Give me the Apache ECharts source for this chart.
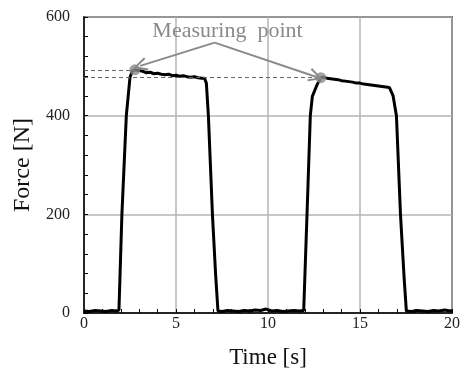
<!DOCTYPE html>
<html>
<head>
<meta charset="utf-8">
<script src="https://cdn.jsdelivr.net/npm/echarts@6/dist/echarts.min.js"></script>
<style>
html,body{margin:0;padding:0;background:#fff;}
#c{width:464px;height:376px;}
</style>
</head>
<body>
<div id="c"></div>
<script>
// Time [s]
const timeS = [
  0, 0.3, 0.6, 0.9, 1.2, 1.5, 1.75, 1.9, 2.06, 2.3, 2.5, 2.62, 2.76, 2.9, 3.0, 3.2, 3.4, 3.6, 3.8, 4.0,
  4.2, 4.4, 4.6, 4.8, 5.0, 5.2, 5.4, 5.6, 5.8, 6.0, 6.2, 6.4, 6.55, 6.65, 6.76, 6.98, 7.15, 7.28,
  7.5, 7.8, 8.1, 8.4, 8.7, 9.0, 9.3, 9.6, 9.9, 10.0, 10.2, 10.5, 10.8, 11.1, 11.4, 11.7, 11.94,
  12.12, 12.3, 12.41, 12.55, 12.67, 12.8, 12.87, 13.0, 13.2, 13.4, 13.6, 13.8, 14.0, 14.2, 14.4,
  14.6, 14.8, 15.0, 15.2, 15.4, 15.6, 15.8, 16.0, 16.2, 16.4, 16.6, 16.7, 16.8, 16.98, 17.2, 17.4,
  17.52, 17.8, 18.1, 18.4, 18.7, 19.0, 19.3, 19.6, 19.9, 20.0
];
// Force [N]
const forceN = [
  4, 3, 5, 4, 3, 5, 4, 6, 200, 400, 478, 490, 493, 492, 489, 490, 487, 488, 485, 486,
  484, 483, 484, 481, 482, 480, 481, 479, 478, 479, 477, 476, 476, 466, 400, 200, 80, 4,
  3, 5, 4, 3, 5, 4, 6, 5, 8, 6, 4, 5, 3, 4, 5, 4, 5,
  200, 400, 439, 452, 463, 472, 477, 478, 476, 475, 474, 473, 471, 470, 469,
  468, 466, 466, 464, 463, 462, 461, 460, 459, 458, 457, 456, 440, 400, 200, 70,
  4, 3, 5, 4, 3, 5, 4, 6, 4, 5
];
// Measuring points
const pointTimes = [2.76, 12.87];
const pointForces = [493, 477];
// Annotation
const annoText = 'Measuring  point';
const annoTextPos = [7.8, 572];
const arrowFrom = [7.1, 548];
const arrowTips = [[3.05, 501], [12.6, 479]];

const xTicks = [0, 5, 10, 15, 20];
const yTicks = [0, 200, 400, 600];

const serif = '"Liberation Serif","Times New Roman",serif';
const chart = echarts.init(document.getElementById('c'));
const gray = '#8a8a8a';
const chevron = 'path://M5,0 L10,11 L8.6,11.6 L5,3.2 L1.4,11.6 L0,11 Z';

chart.setOption({
  animation: false,
  backgroundColor: '#fff',
  grid: { left: 84, right: 12, top: 17, bottom: 63, outerBoundsMode: 'none', containLabel: false,
          show: true, borderColor: '#000', borderWidth: 1.5, backgroundColor: 'transparent' },
  xAxis: {
    type: 'value', min: xTicks[0], max: xTicks[xTicks.length - 1], interval: 5,
    name: 'Time [s]', nameLocation: 'middle', nameGap: 33,
    nameTextStyle: { fontFamily: serif, fontSize: 23, color: '#111' },
    axisLine: { show: true, lineStyle: { color: '#000', width: 1.5 } },
    axisTick: { show: true, inside: true, length: 4, lineStyle: { color: '#000' } },
    minorTick: { show: true, splitNumber: 5, length: 4, lineStyle: { color: '#000' } },
    axisLabel: { fontFamily: serif, fontSize: 16, color: '#222', margin: 3 },
    splitLine: { show: true, lineStyle: { color: '#b4b4b4', width: 1.5 } }
  },
  yAxis: {
    type: 'value', min: yTicks[0], max: yTicks[yTicks.length - 1], interval: 200,
    name: 'Force [N]', nameLocation: 'middle', nameGap: 48,
    nameTextStyle: { fontFamily: serif, fontSize: 24, color: '#111' },
    axisLine: { show: true, lineStyle: { color: '#000', width: 1.5 } },
    axisTick: { show: true, inside: true, length: 4, lineStyle: { color: '#000' } },
    minorTick: { show: true, splitNumber: 5, length: 4, lineStyle: { color: '#000' } },
    axisLabel: { fontFamily: serif, fontSize: 16, color: '#222', margin: 14 },
    splitLine: { show: true, lineStyle: { color: '#b4b4b4', width: 1.5 } }
  },
  series: [
    {
      type: 'line', data: timeS.map((t, i) => [t, forceN[i]]),
      showSymbol: false, symbol: 'none',
      lineStyle: { color: '#000', width: 3 }, z: 3
    },
    {
      type: 'scatter', data: pointTimes.map((t, i) => [t, pointForces[i]]),
      symbolSize: 11, itemStyle: { color: gray }, z: 5,
      markLine: {
        silent: true, symbol: ['none', 'none'],
        lineStyle: { color: '#666', type: [4, 3], width: 1 },
        label: { show: false },
        data: pointTimes.map((t, i) => [{ coord: [0, pointForces[i]] }, { coord: [t, pointForces[i]] }])
      }
    },
    {
      type: 'scatter', data: [], z: 6,
      markLine: {
        silent: true, symbol: ['none', chevron], symbolSize: [14, 14],
        lineStyle: { color: gray, type: 'solid', width: 2 },
        label: { show: false },
        data: arrowTips.map(tip => [{ coord: arrowFrom }, { coord: tip }])
      },
      markPoint: {
        silent: true, symbol: 'circle', symbolSize: 1, itemStyle: { color: 'transparent' },
        label: { show: true, position: 'inside', formatter: annoText, fontFamily: serif, fontSize: 22, color: gray },
        data: [{ coord: annoTextPos }]
      }
    }
  ]
});
</script>
</body>
</html>
